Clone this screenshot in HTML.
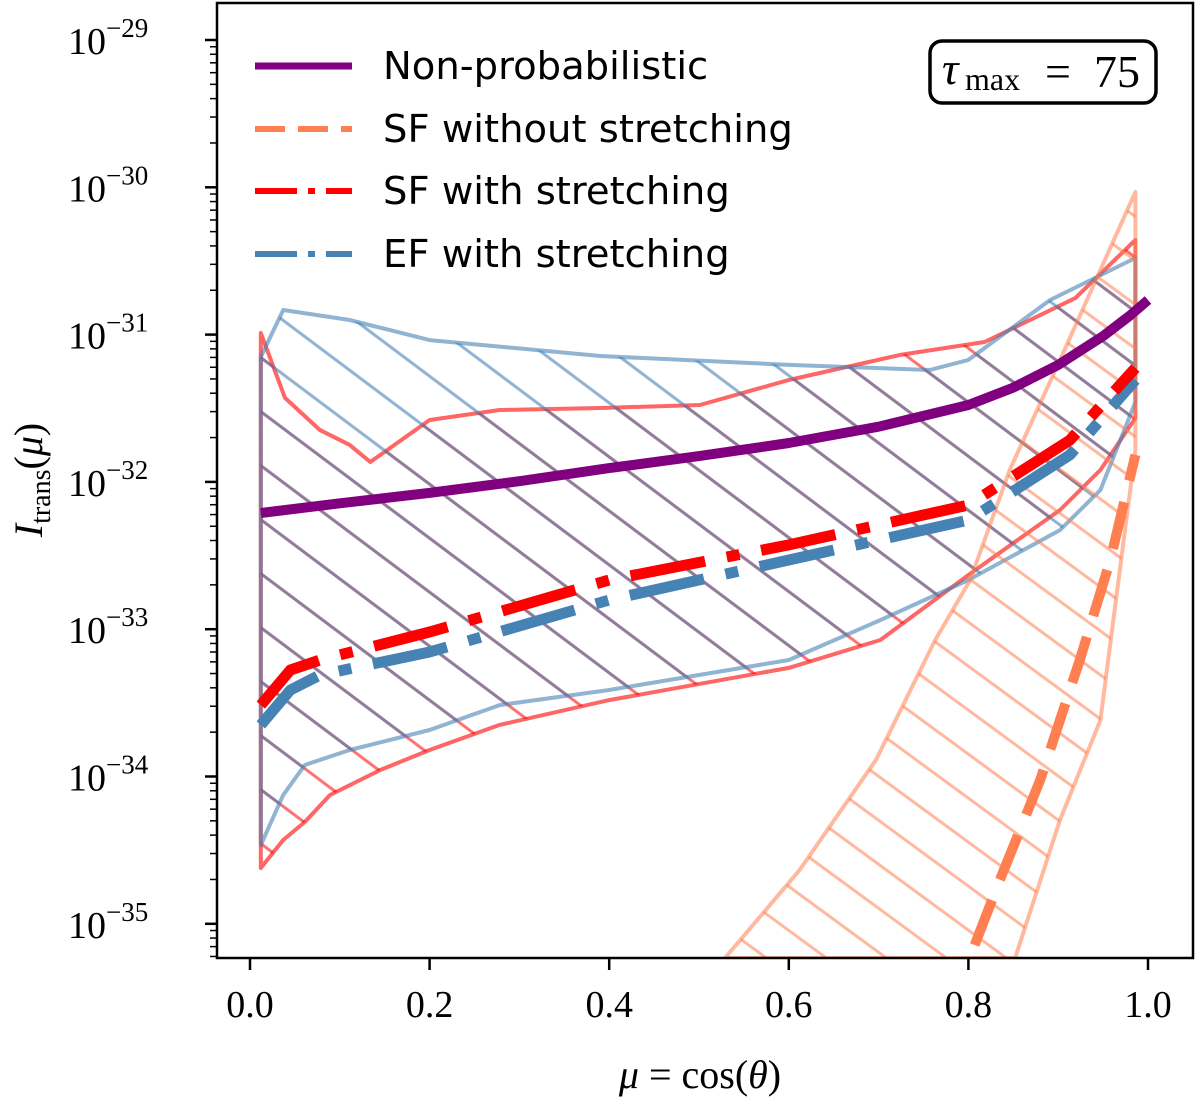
<!DOCTYPE html>
<html><head><meta charset="utf-8"><style>
body{margin:0;background:#fff;}
svg text{font-family:"Liberation Serif",serif;}
</style></head><body>
<svg id="chart" width="1200" height="1101" viewBox="0 0 1200 1101" xmlns="http://www.w3.org/2000/svg">
<defs>
<clipPath id="plotclip"><rect x="217" y="3" width="976" height="955"/></clipPath>
<pattern id="hatchRed" patternUnits="userSpaceOnUse" width="72" height="54"><path d="M-72,-54 L144,108 M-72,0 L72,108 M0,-54 L144,54" stroke="#ff0000" stroke-opacity="0.55" stroke-width="3"/></pattern>
<pattern id="hatchBlue" patternUnits="userSpaceOnUse" width="72" height="54"><path d="M-72,-54 L144,108 M-72,0 L72,108 M0,-54 L144,54" stroke="#4682b4" stroke-opacity="0.6" stroke-width="3"/></pattern>
<pattern id="hatchOrange" patternUnits="userSpaceOnUse" width="60" height="44"><path d="M-60,-44 L120,88 M-60,0 L60,88 M0,-44 L120,44" stroke="#ff7f50" stroke-opacity="0.55" stroke-width="3"/></pattern>
</defs>
<g id="bands" clip-path="url(#plotclip)"></g>
<g id="lines" clip-path="url(#plotclip)"></g>
<rect x="217" y="3" width="976" height="955" fill="none" stroke="#000" stroke-width="2.5"/>
<g id="axes"></g>
<g>
<line x1="255" y1="66" x2="352" y2="66" stroke="#800080" stroke-width="7"/>
<text x="383" y="79" font-size="38.5" style="font-family:'DejaVu Sans','Liberation Sans',sans-serif">Non-probabilistic</text>
<line x1="255" y1="129" x2="352" y2="129" stroke="#ff7f50" stroke-width="6" stroke-dasharray="30 13"/>
<text x="383" y="142" font-size="38.5" style="font-family:'DejaVu Sans','Liberation Sans',sans-serif">SF without stretching</text>
<line x1="255" y1="191" x2="352" y2="191" stroke="#ff0000" stroke-width="6" stroke-dasharray="42 11 7 11"/>
<text x="383" y="204" font-size="38.5" style="font-family:'DejaVu Sans','Liberation Sans',sans-serif">SF with stretching</text>
<line x1="255" y1="254" x2="352" y2="254" stroke="#4682b4" stroke-width="6" stroke-dasharray="42 11 7 11"/>
<text x="383" y="267" font-size="38.5" style="font-family:'DejaVu Sans','Liberation Sans',sans-serif">EF with stretching</text>
</g>
<g>
<rect x="930" y="41" width="226" height="62" rx="12" fill="#fff" stroke="#000" stroke-width="3.5"/>
<text x="942" y="84" font-size="46" font-style="italic" font-family="Liberation Serif, serif">τ</text>
<text x="965" y="90" font-size="32" font-family="Liberation Serif, serif">max</text>
<text x="1045" y="87" font-size="46" font-family="Liberation Serif, serif">=</text>
<text x="1094" y="87" font-size="46" font-family="Liberation Serif, serif">75</text>
</g>
<text x="700" y="1088" font-size="40" text-anchor="middle"><tspan font-style="italic">μ</tspan> = cos(<tspan font-style="italic">θ</tspan>)</text>
<text transform="translate(42,480) rotate(-90)" font-size="40" text-anchor="middle"><tspan font-style="italic">I</tspan><tspan font-size="28" dy="8">trans</tspan><tspan dy="-8">(</tspan><tspan font-style="italic">μ</tspan>)</text>
</svg>
<script>
const xTicks=[0.0,0.2,0.4,0.6,0.8,1.0];
const xTickLabels=["0.0","0.2","0.4","0.6","0.8","1.0"];
const yTicks=[-29,-30,-31,-32,-33,-34,-35];
const yTickLabels=["−29","−30","−31","−32","−33","−34","−35"];
const muPurple=[0.012,0.1,0.2,0.3,0.4,0.5,0.6,0.7,0.8,0.85,0.9,0.95,0.98,1.0];
const logPurple=[-32.211,-32.145,-32.075,-31.995,-31.906,-31.825,-31.736,-31.625,-31.478,-31.36,-31.206,-31.01,-30.87,-30.765];
const muSF=[0.012,0.045,0.078,0.2,0.4,0.6,0.8,0.913,0.986];
const logSF=[-33.515,-33.277,-33.209,-33.019,-32.666,-32.428,-32.157,-31.716,-31.227];
const muEF=[0.012,0.045,0.078,0.2,0.4,0.6,0.8,0.913,0.986];
const logEF=[-33.65,-33.413,-33.311,-33.155,-32.802,-32.53,-32.259,-31.817,-31.308];
const muSFUp=[0.012,0.039,0.078,0.111,0.134,0.2,0.278,0.39,0.501,0.6,0.724,0.818,0.919,0.986];
const logSFUp=[-30.989,-31.43,-31.648,-31.749,-31.865,-31.58,-31.512,-31.498,-31.478,-31.308,-31.138,-31.05,-30.752,-30.358];
const muSFLo=[0.012,0.037,0.061,0.089,0.145,0.2,0.278,0.4,0.6,0.702,0.8,0.902,0.947,0.986];
const logSFLo=[-34.621,-34.431,-34.309,-34.126,-33.956,-33.82,-33.65,-33.481,-33.263,-33.073,-32.632,-32.191,-31.919,-31.566];
const muEFUp=[0.012,0.037,0.111,0.2,0.39,0.6,0.757,0.8,0.891,0.986];
const logEFUp=[-31.152,-30.833,-30.901,-31.037,-31.145,-31.206,-31.24,-31.172,-30.765,-30.48];
const muEFLo=[0.012,0.037,0.061,0.111,0.2,0.278,0.4,0.6,0.702,0.8,0.902,0.947,0.986];
const logEFLo=[-34.465,-34.126,-33.922,-33.82,-33.684,-33.515,-33.413,-33.209,-32.938,-32.666,-32.327,-32.055,-31.458];
const muNoUp=[0.529,0.612,0.697,0.763,0.802,0.846,0.902,0.947,0.986];
const logNoUp=[-35.232,-34.635,-33.888,-33.073,-32.666,-31.919,-31.172,-30.561,-30.032];
const muNoLo=[0.852,0.902,0.947,0.986];
const logNoLo=[-35.232,-34.295,-33.617,-31.783];
const muNo=[0.807,0.835,0.88,0.924,0.958,0.986];
const logNo=[-35.144,-34.703,-34.024,-33.209,-32.53,-31.817];

const NS="http://www.w3.org/2000/svg";
const X=m=>250+898*m;
const Y=l=>40+(-29-l)*147.3;
function pts(mu,lg){return mu.map((m,i)=>X(m).toFixed(1)+","+Y(lg[i]).toFixed(1));}
function mk(tag,attrs,parent){const e=document.createElementNS(NS,tag);for(const k in attrs)e.setAttribute(k,attrs[k]);parent.appendChild(e);return e;}
const bands=document.getElementById('bands'),lines=document.getElementById('lines'),axes=document.getElementById('axes');
function band(mu1,l1,mu2,l2,fill,stroke){
  const p=pts(mu1,l1).concat(pts(mu2,l2).reverse());
  return mk('polygon',{points:p.join(' '),fill:fill,stroke:stroke,'stroke-width':4,'stroke-linejoin':'round'},bands);
}
const b1=band(muSFUp,logSFUp,muSFLo,logSFLo,'url(#hatchRed)','rgba(255,0,0,0.6)');


const b2=band(muEFUp,logEFUp,muEFLo,logEFLo,'url(#hatchBlue)','rgba(70,130,180,0.6)');


const b3=band(muNoUp,logNoUp,muNoLo,logNoLo,'url(#hatchOrange)','rgba(255,127,80,0.55)');


function line(mu,lg,color,w,dash){
  const a={points:pts(mu,lg).join(' '),fill:'none',stroke:color,'stroke-width':w,'stroke-linejoin':'round'};
  if(dash)a['stroke-dasharray']=dash;
  return mk('polyline',a,lines);
}
const l0=line(muNo,logNo,'#ff7f50',10,'48 22');


const l1=line(muEF,logEF,'#4682b4',11,'76 22 13 22');


const l2=line(muSF,logSF,'#ff0000',11,'76 22 13 22');


const l3=line(muPurple,logPurple,'#800080',10,null);


xTicks.forEach((t,i)=>{
  mk('line',{x1:X(t),x2:X(t),y1:958,y2:970,stroke:'#000','stroke-width':2.5},axes);
  const tx=mk('text',{x:X(t),y:1017,'font-size':38,'text-anchor':'middle'},axes);
  tx.textContent=xTickLabels[i];
  
  
});
yTicks.forEach((t,i)=>{
  const y=Y(t);
  mk('line',{x1:205,x2:217,y1:y,y2:y,stroke:'#000','stroke-width':2.5},axes);
  for(let k=2;k<10;k++){const ym=Y(t-1+Math.log10(k));if(ym>3&&ym<958)mk('line',{x1:210,x2:217,y1:ym,y2:ym,stroke:'#000','stroke-width':1.5},axes);}
  const tx=mk('text',{x:68,y:y+14,'font-size':38},axes);
  tx.innerHTML='10<tspan font-size="27" dy="-17">'+yTickLabels[i]+'</tspan>';
  
  
});
</script>
</body></html>
